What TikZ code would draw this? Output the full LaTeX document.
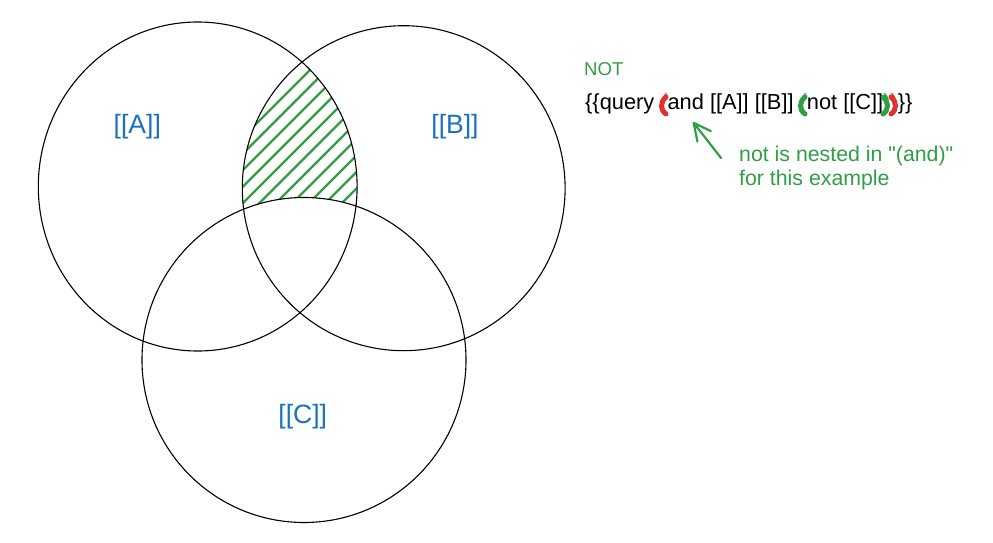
\documentclass[tikz,border=0pt]{standalone}
\usepackage{fontspec}
\setmainfont{Liberation Sans}
\usepackage{xcolor}
\usetikzlibrary{arrows.meta}

\definecolor{setblue}{HTML}{1971C2}
\definecolor{setgreen}{HTML}{2F9E44}
\definecolor{setred}{HTML}{E03131}

% thick hand drawn bracket over a paren of the query: colour, centre x, 1 = open, -1 = close
\newcommand\parbrush[3]{%
 \begin{scope}[shift={(#2,0)},xscale=#3]
  \draw[#1,line width=5pt,line cap=round] (3,-12) .. controls (-3,-7) and (-3,1) .. (3,5);
 \end{scope}}

\begin{document}
\begin{tikzpicture}[x=1pt,y=-1pt,
  ring/.style={draw=black,line width=1.1pt},
  hatch/.style={setgreen,line width=2.3pt,line cap=round},
  setlabel/.style={setblue,inner sep=0pt,font=\fontsize{26.5}{30}\selectfont},
  querytext/.style={inner sep=0pt,font=\fontsize{21.8}{26}\selectfont},
  notetext/.style={setgreen,inner sep=0pt,align=left,font=\fontsize{21.3}{23.5}\selectfont},
  pointer/.style={setgreen,line width=2.2pt,line cap=round,-{Straight Barb[length=17pt,width=17pt,round]}}]

\useasboundingbox (0,0) rectangle (993,543);

\coordinate (cA) at (197.7,186.5);
\coordinate (cB) at (403.7,188.2);
\coordinate (cC) at (304,360);
\def\rAx{159.4} \def\rAy{164.5}
\def\rBx{161.4} \def\rBy{162.5}
\def\rCx{162}   \def\rCy{162.5}

\begin{scope}[even odd rule] %A and B, not C
 \clip (cA) ellipse [x radius=\rAx, y radius=\rAy];
 \clip (cB) ellipse [x radius=\rBx, y radius=\rBy];
 \clip (0,0) rectangle (993,543) (cC) ellipse [x radius=\rCx, y radius=\rCy];
 \foreach \k in {0,1,...,11} \draw[hatch] (230,{380+16.5*\k-230}) -- (370,{380+16.5*\k-370});
\end{scope}

\draw[ring] (cA) ellipse [x radius=\rAx, y radius=\rAy];
\draw[ring] (cB) ellipse [x radius=\rBx, y radius=\rBy];
\draw[ring] (cC) ellipse [x radius=\rCx, y radius=\rCy];

\node[setlabel,anchor=base] (labA) at (137.3,133.7) {[[A]]};
\node[setlabel,anchor=base] (labB) at (455,133.7) {[[B]]};
\node[setlabel,anchor=base] (labC) at (302.7,423.7) {[[C]]};

\node[setgreen,inner sep=0pt,anchor=base west,font=\fontsize{18.6}{22}\selectfont] (notword) at (584,75) {NOT};
\node[querytext,anchor=base west] (query) at (585,109)
  {\{\{query {\color{setred}(}and [[A]] [[B]] {\color{setgreen}(}not [[C]]{\color{setgreen})}{\color{setred})}\}\}};

\begin{scope}[shift={(query.base west)}]
 \parbrush{setred}{78}{1}
 \parbrush{setgreen}{217}{1}
 \parbrush{setgreen}{301}{-1}
 \parbrush{setred}{309}{-1}
\end{scope}

\node[notetext,anchor=base west] (nested) at (739,185) {not is nested in \textquotedbl(and)\textquotedbl\\for this example};

\coordinate (arrtail) at (721,158);
\coordinate (arrtip) at (693,122);
\draw[pointer] (arrtail) -- (arrtip);

\end{tikzpicture}
\end{document}
